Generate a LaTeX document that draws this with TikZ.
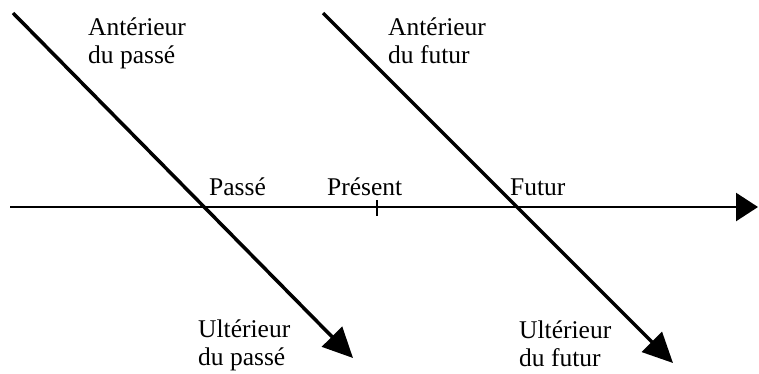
\documentclass[tikz,border=0pt]{standalone}
\usepackage{fontspec}
\setmainfont{Liberation Serif}
\usetikzlibrary{arrows.meta}
\begin{document}
\begin{tikzpicture}[x=1pt,y=-1pt,
  lbl/.style={anchor=base west,inner sep=0pt,font=\fontsize{25.5}{28}\selectfont},
  axis/.style={line width=2.5pt,-{Triangle[length=22pt,width=28pt]}},
  diag/.style={line width=3.5pt,-{Triangle[length=30pt,width=28pt]}},
  tick/.style={line width=2.5pt}]
\useasboundingbox (0,0) rectangle (759,373);
% axis
\coordinate (hs) at (10,207);
\coordinate (he) at (758,207);
\draw[axis] (hs) -- (he);
% diagonals
\coordinate (ps) at (13,13);
\coordinate (pe) at (353,358);
\draw[diag] (ps) -- (pe);
\coordinate (fs) at (323,13);
\coordinate (fe) at (673,363);
\draw[diag] (fs) -- (fe);
% present tick
\coordinate (t1) at (377,200);
\coordinate (t2) at (377,216);
\draw[tick] (t1) -- (t2);
% labels
\node[lbl] (ap) at (88,35) {\begin{tabular}[t]{@{}l@{}}Antérieur\\du passé\end{tabular}};
\node[lbl] (af) at (388,35) {\begin{tabular}[t]{@{}l@{}}Antérieur\\du futur\end{tabular}};
\node[lbl] (pa) at (209,195) {Passé};
\node[lbl] (pr) at (327,195) {Présent};
\node[lbl] (fu) at (510,195) {Futur};
\node[lbl] (up) at (198,337) {\begin{tabular}[t]{@{}l@{}}Ultérieur\\du passé\end{tabular}};
\node[lbl] (uf) at (519,338) {\begin{tabular}[t]{@{}l@{}}Ultérieur\\du futur\end{tabular}};
\end{tikzpicture}
\end{document}
